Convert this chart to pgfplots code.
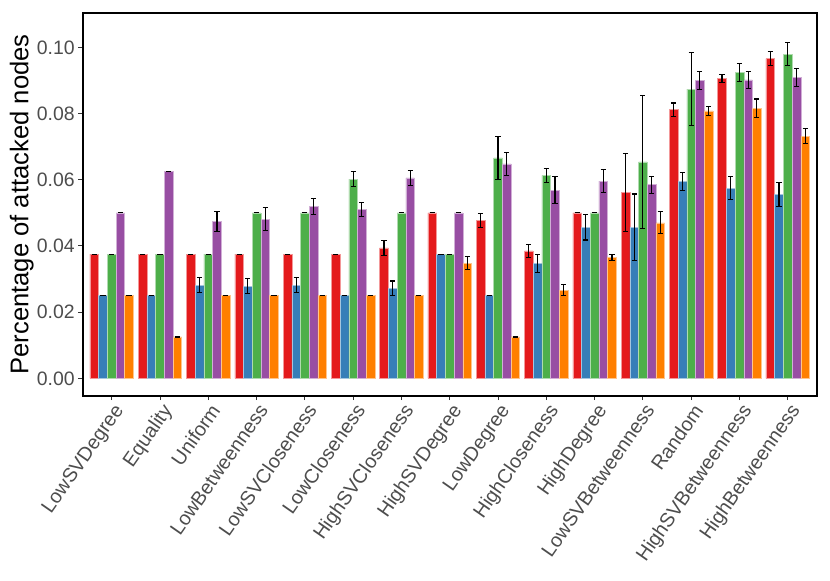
\documentclass[border=0pt]{standalone}
\usepackage{pgfplots}
\usepackage{pgfplotstable}
\pgfplotsset{compat=1.18}
\usepackage{fontspec}
\setmainfont{Liberation Sans}
\definecolor{cred}{HTML}{E41A1C}
\definecolor{cblue}{HTML}{377EB8}
\definecolor{cgreen}{HTML}{4DAF4A}
\definecolor{cpurple}{HTML}{984EA3}
\definecolor{corange}{HTML}{FF7F00}
\definecolor{tickgray}{HTML}{4D4D4D}
\definecolor{tickline}{HTML}{333333}

\pgfplotstableread{
x y err
0 0.0375 0
1 0.0375 0
2 0.0375 0
3 0.0375 0
4 0.0375 0
5 0.0375 0
6 0.0394 0.0022
7 0.0500 0
8 0.0477 0.0022
9 0.0385 0.0020
10 0.0500 0
11 0.0561 0.0117
12 0.0812 0.0020
13 0.0906 0.0013
14 0.0966 0.0022
}\tred
\pgfplotstableread{
x y err
0 0.0250 0
1 0.0250 0
2 0.0281 0.0023
3 0.0278 0.0023
4 0.0281 0.0023
5 0.0250 0
6 0.0272 0.0022
7 0.0375 0
8 0.0250 0
9 0.0348 0.0027
10 0.0457 0.0039
11 0.0457 0.0100
12 0.0595 0.0028
13 0.0575 0.0035
14 0.0556 0.0037
}\tblue
\pgfplotstableread{
x y err
0 0.0375 0
1 0.0375 0
2 0.0375 0
3 0.0500 0
4 0.0500 0
5 0.0602 0.0023
6 0.0500 0
7 0.0375 0
8 0.0666 0.0066
9 0.0613 0.0020
10 0.0500 0
11 0.0654 0.0201
12 0.0874 0.0110
13 0.0924 0.0027
14 0.0980 0.0035
}\tgreen
\pgfplotstableread{
x y err
0 0.0500 0
1 0.0625 0
2 0.0474 0.0031
3 0.0481 0.0034
4 0.0519 0.0025
5 0.0510 0.0022
6 0.0606 0.0023
7 0.0500 0
8 0.0648 0.0034
9 0.0568 0.0041
10 0.0596 0.0034
11 0.0585 0.0026
12 0.0900 0.0028
13 0.0902 0.0026
14 0.0909 0.0028
}\tpurple
\pgfplotstableread{
x y err
0 0.0250 0
1 0.0125 0
2 0.0250 0
3 0.0250 0
4 0.0250 0
5 0.0250 0
6 0.0250 0
7 0.0348 0.0019
8 0.0125 0
9 0.0266 0.0017
10 0.0365 0.0009
11 0.0470 0.0033
12 0.0808 0.0013
13 0.0816 0.0028
14 0.0732 0.0022
}\torange

\begin{document}
\begin{tikzpicture}
\path[use as bounding box] (0,0) rectangle (830bp,581bp);
\begin{axis}[
  at={(82.7bp,185.3bp)}, anchor=south west,
  scale only axis, width=734bp, height=382.4bp,
  xmin=-0.6, xmax=14.6, ymin=-0.00525, ymax=0.1103,
  ybar=0pt, bar width=8.7bp,
  axis line style={black, line width=1.8bp},
  tick align=outside, major tick length=4.5bp,
  xtick pos=bottom, ytick pos=left,
  tick style={tickline, line width=0.9bp},
  xtick={0,...,14},
  xticklabels={LowSVDegree,Equality,Uniform,LowBetweenness,LowSVCloseness,LowCloseness,HighSVCloseness,HighSVDegree,LowDegree,HighCloseness,HighDegree,LowSVBetweenness,Random,HighSVBetweenness,HighBetweenness},
  xticklabel style={font=\fontsize{19.8}{22}\selectfont, text=tickgray, rotate=55, anchor=north east, inner sep=1bp, yshift=-1bp},
  ytick={0,0.02,0.04,0.06,0.08,0.1},
  yticklabel style={font=\fontsize{19.5}{22}\selectfont, text=tickgray, /pgf/number format/fixed, /pgf/number format/fixed zerofill, /pgf/number format/precision=2},
  /pgf/number format/assume math mode=true,
  scaled y ticks=false,
  ylabel={Percentage of attacked nodes},
  ylabel style={font=\fontsize{25.7}{28}\selectfont, at={(axis description cs:-0.0831,0.5)}, anchor=center},
  clip=false,
  error bars/y dir=both, error bars/y explicit,
  error bars/error bar style={black, line width=1.1bp},
  error bars/error mark options={black, line width=1.1bp, mark size=2.6bp, rotate=90},
]
\addplot[fill=cred, draw=cred!45!white, line width=0.5bp] table[x=x, y=y, y error=err] {\tred};
\addplot[fill=cblue, draw=cblue!45!white, line width=0.5bp] table[x=x, y=y, y error=err] {\tblue};
\addplot[fill=cgreen, draw=cgreen!45!white, line width=0.5bp] table[x=x, y=y, y error=err] {\tgreen};
\addplot[fill=cpurple, draw=cpurple!45!white, line width=0.5bp] table[x=x, y=y, y error=err] {\tpurple};
\addplot[fill=corange, draw=corange!45!white, line width=0.5bp] table[x=x, y=y, y error=err] {\torange};
\end{axis}
\end{tikzpicture}
\end{document}
